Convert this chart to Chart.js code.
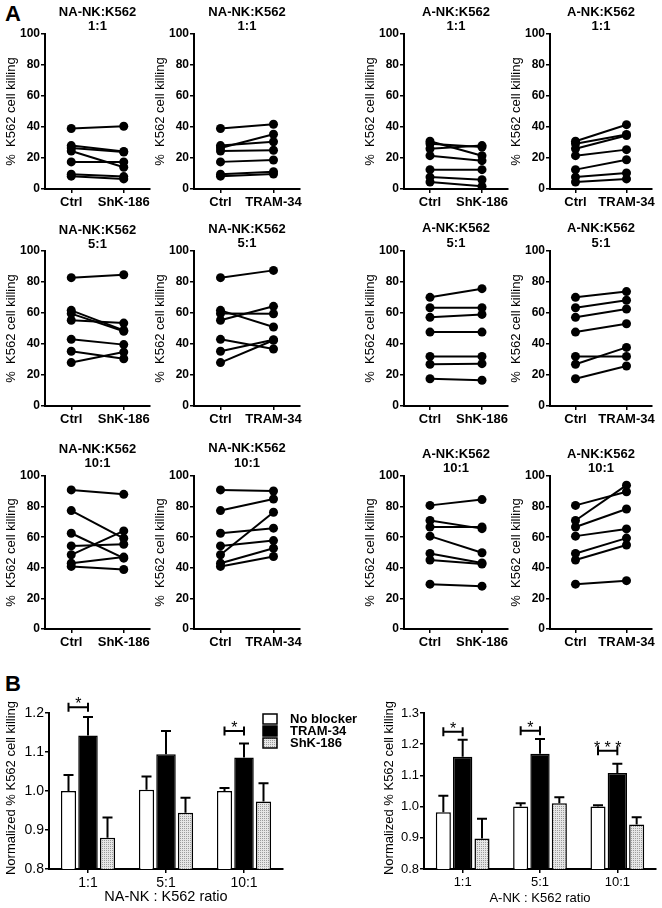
<!DOCTYPE html>
<html>
<head>
<meta charset="utf-8">
<script src="https://cdn.jsdelivr.net/npm/chart.js@4.4.1/dist/chart.umd.min.js"></script>
<style>
  body { margin: 0; background: #fff; }
  #fig { position: relative; width: 662px; height: 908px; overflow: hidden; }
  #fig canvas { position: absolute; }
  .tag { position: absolute; font: bold 22px Arial, "Liberation Sans", sans-serif; color: #000; }
</style>
</head>
<body>
<div id="fig">
  <div class="tag" style="left:5px;top:1px">A</div>
  <div class="tag" style="left:5px;top:671px">B</div>

  <canvas id="na1shk" width="160" height="215" style="left:0px;top:0px"></canvas>
  <canvas id="na1tram" width="161" height="215" style="left:149px;top:0px"></canvas>
  <canvas id="a1shk" width="159" height="215" style="left:359px;top:0px"></canvas>
  <canvas id="a1tram" width="157" height="215" style="left:505px;top:0px"></canvas>

  <canvas id="na5shk" width="160" height="215" style="left:0px;top:217px"></canvas>
  <canvas id="na5tram" width="161" height="215" style="left:149px;top:217px"></canvas>
  <canvas id="a5shk" width="159" height="215" style="left:359px;top:217px"></canvas>
  <canvas id="a5tram" width="157" height="215" style="left:505px;top:217px"></canvas>

  <canvas id="na10shk" width="160" height="213" style="left:0px;top:442px"></canvas>
  <canvas id="na10tram" width="161" height="213" style="left:149px;top:442px"></canvas>
  <canvas id="a10shk" width="159" height="213" style="left:359px;top:442px"></canvas>
  <canvas id="a10tram" width="157" height="213" style="left:505px;top:442px"></canvas>

  <canvas id="naBars" width="360" height="248" style="left:0px;top:660px"></canvas>
  <canvas id="aBars" width="287" height="248" style="left:375px;top:660px"></canvas>
</div>
<script>
const FONT = 'Arial, "Liberation Sans", sans-serif';

// A: % K562 killing per donor (7 donors), Ctrl vs blocker
const naCtrl1 = [39, 28, 26.5, 24.5, 17.5, 9.5, 8.3];
const naShk1 = [40.5, 24.2, 23.8, 14, 17.5, 8, 6.5];
const naTram1 = [41.8, 30.5, 35.3, 25, 18.7, 11.2, 9.7];
const naCtrl5 = [82.8, 61.7, 59.6, 55.3, 43, 35.3, 28];
const naShk5 = [84.7, 48.8, 48.2, 53.5, 39.6, 30.5, 34.8];
const naTram5 = [87.5, 51, 59.5, 64.3, 36.8, 42.8, 42.4];
const naCtrl10 = [90.9, 77.4, 62.6, 54.3, 48.5, 43, 40.9];
const naShk10 = [88, 59.3, 46.3, 55.4, 64.1, 47, 38.9];
const naTram10 = [90.2, 85, 65.9, 57.8, 76.3, 52.8, 47.4];

const aCtrl1 = [30.8, 29.2, 26, 21.5, 12.5, 7.7, 4.5];
const aShk1 = [21.5, 27.1, 28, 18.3, 12.5, 6, 1.7];
const aTram1 = [41.5, 35.2, 34.5, 25.4, 18.9, 10.3, 6.5];
const aCtrl5 = [70.1, 63.4, 57.2, 47.7, 32, 26.9, 17.6];
const aShk5 = [75.7, 63.4, 59.1, 47.7, 32, 27.3, 16.6];
const aTram5 = [73.8, 68.2, 62.6, 53.1, 32, 37.8, 25.8];
const aCtrl10 = [80.8, 70.9, 66.7, 60.7, 49.4, 45.1, 29.3];
const aShk10 = [84.6, 65.6, 66.7, 49.8, 43.2, 42.5, 28];
const aTram10 = [89.7, 94, 78.4, 65.4, 59.4, 54.9, 31.6];

// B: normalized killing, mean and upper SEM
const ratios = ['1:1', '5:1', '10:1'];
const seriesNames = ['No blocker', 'TRAM-34', 'ShK-186'];
const naNoBlock = [1.0, 1.003, 1.0];
const naTram = [1.142, 1.094, 1.086];
const naShk = [0.88, 0.944, 0.973];
const naNoBlockErr = [0.041, 0.034, 0.008];
const naTramErr = [0.048, 0.06, 0.036];
const naShkErr = [0.052, 0.039, 0.047];
const aNoBlock = [0.982, 1.0, 1.0];
const aTram = [1.16, 1.169, 1.108];
const aShk = [0.898, 1.011, 0.943];
const aNoBlockErr = [0.053, 0.011, 0.004];
const aTramErr = [0.054, 0.048, 0.029];
const aShkErr = [0.063, 0.019, 0.023];

// significance brackets (category, bracket height, label)
const naSig = [{ cat: 0, at: 1.215, label: '*' }, { cat: 2, at: 1.154, label: '*' }];
const aSig = [{ cat: 0, at: 1.24, label: '*' }, { cat: 1, at: 1.243, label: '*' }, { cat: 2, at: 1.179, label: '* * *' }];

// ---- plugins ----
const panelTitle = {
  id: 'panelTitle',
  afterDraw(chart, args, o) {
    if (!o.lines) return;
    const { ctx, chartArea: a } = chart;
    const cx = (a.left + a.right) / 2;
    ctx.save();
    ctx.font = 'bold 13px ' + FONT;
    ctx.fillStyle = '#000';
    ctx.textAlign = 'center';
    ctx.textBaseline = 'middle';
    o.lines.forEach((t, i) => ctx.fillText(t, cx, a.top - o.gap[i]));
    ctx.restore();
  }
};

const sideTitle = {
  id: 'sideTitle',
  afterDraw(chart, args, o) {
    if (!o.text) return;
    const { ctx, chartArea: a } = chart;
    ctx.save();
    ctx.translate(a.left + o.dx, (a.top + a.bottom) / 2 + o.dy);
    ctx.rotate(-Math.PI / 2);
    ctx.font = o.size + 'px ' + FONT;
    ctx.fillStyle = '#000';
    ctx.textAlign = 'center';
    ctx.textBaseline = 'middle';
    ctx.fillText(o.text, 0, 0);
    ctx.restore();
  }
};

const errorBars = {
  id: 'errorBars',
  afterDatasetsDraw(chart, args, o) {
    if (!o.errors) return;
    const { ctx } = chart;
    const y = chart.scales.y;
    ctx.save();
    ctx.strokeStyle = '#000';
    ctx.lineWidth = 2;
    chart.data.datasets.forEach((ds, di) => {
      chart.getDatasetMeta(di).data.forEach((bar, i) => {
        const top = y.getPixelForValue(ds.data[i] + o.errors[di][i]);
        ctx.beginPath();
        ctx.moveTo(bar.x, bar.y);
        ctx.lineTo(bar.x, top);
        ctx.moveTo(bar.x - 5, top);
        ctx.lineTo(bar.x + 5, top);
        ctx.stroke();
      });
    });
    ctx.restore();
  }
};

const sigBrackets = {
  id: 'sigBrackets',
  afterDraw(chart, args, o) {
    if (!o.items) return;
    const { ctx } = chart;
    const y = chart.scales.y;
    ctx.save();
    ctx.strokeStyle = '#000';
    ctx.fillStyle = '#000';
    ctx.lineWidth = 2;
    ctx.font = o.size + 'px ' + FONT;
    ctx.textAlign = 'center';
    ctx.textBaseline = 'alphabetic';
    o.items.forEach(s => {
      const x1 = chart.getDatasetMeta(0).data[s.cat].x;
      const x2 = chart.getDatasetMeta(1).data[s.cat].x;
      const py = y.getPixelForValue(s.at);
      ctx.beginPath();
      ctx.moveTo(x1, py); ctx.lineTo(x2, py);
      ctx.moveTo(x1, py - 4.5); ctx.lineTo(x1, py + 4.5);
      ctx.moveTo(x2, py - 4.5); ctx.lineTo(x2, py + 4.5);
      ctx.stroke();
      ctx.fillText(s.label, (x1 + x2) / 2, py + 2);
    });
    ctx.restore();
  }
};

const boxLegend = {
  id: 'boxLegend',
  afterDraw(chart, args, o) {
    if (!o.x) return;
    const { ctx } = chart;
    ctx.save();
    ctx.font = 'bold 13px ' + FONT;
    ctx.textBaseline = 'middle';
    chart.data.datasets.forEach((ds, i) => {
      const cy = o.y + i * 12;
      ctx.fillStyle = ds.backgroundColor;
      ctx.fillRect(o.x, cy - 5, 14, 10);
      ctx.strokeStyle = '#000';
      ctx.lineWidth = 1.5;
      ctx.strokeRect(o.x, cy - 5, 14, 10);
      ctx.fillStyle = '#000';
      ctx.fillText(ds.label, o.textX, cy + 0.5);
    });
    ctx.restore();
  }
};

Chart.register(panelTitle, sideTitle, errorBars, sigBrackets, boxLegend);

const axisBorder = { display: true, color: '#000', width: 2 };
const tickGrid = { drawOnChartArea: false, drawTicks: true, tickLength: 4, color: '#000', lineWidth: 1.5 };

function pairPanel(id, group, ratio, blocker, ctrl, treat, gap) {
  new Chart(document.getElementById(id), {
    type: 'line',
    data: {
      labels: ['Ctrl', blocker],
      datasets: ctrl.map((c, i) => ({
        data: [c, treat[i]],
        borderColor: '#000',
        backgroundColor: '#000',
        borderWidth: 2,
        pointRadius: 4.5,
        pointBorderWidth: 0
      }))
    },
    options: {
      responsive: false,
      animation: false,
      events: [],
      layout: { padding: { top: 34, right: 10, bottom: 0, left: 0 } },
      plugins: {
        legend: { display: false },
        tooltip: { enabled: false },
        panelTitle: { lines: [group + ':K562', ratio], gap: gap }
      },
      scales: {
        x: {
          offset: true,
          afterFit: s => { s.height = 26; },
          border: axisBorder,
          grid: tickGrid,
          ticks: {
            color: '#000', padding: 2, autoSkip: false, maxRotation: 0, minRotation: 0,
            font: { family: FONT, size: 13, weight: 'bold' }
          }
        },
        y: {
          min: 0,
          max: 100,
          afterFit: s => { s.width = 45; },
          border: axisBorder,
          grid: tickGrid,
          ticks: { stepSize: 20, color: '#000', padding: 1, font: { family: FONT, size: 12, weight: 'bold' } },
          title: {
            display: true,
            text: '%  K562 cell killing',
            color: '#000',
            padding: { top: 4, bottom: 0 },
            font: { family: FONT, size: 13 }
          }
        }
      }
    }
  });
}

const g1 = [22, 8];
pairPanel('na1shk', 'NA-NK', '1:1', 'ShK-186', naCtrl1, naShk1, g1);
pairPanel('na1tram', 'NA-NK', '1:1', 'TRAM-34', naCtrl1, naTram1, g1);
pairPanel('a1shk', 'A-NK', '1:1', 'ShK-186', aCtrl1, aShk1, g1);
pairPanel('a1tram', 'A-NK', '1:1', 'TRAM-34', aCtrl1, aTram1, g1);
pairPanel('na5shk', 'NA-NK', '5:1', 'ShK-186', naCtrl5, naShk5, [21, 7]);
pairPanel('na5tram', 'NA-NK', '5:1', 'TRAM-34', naCtrl5, naTram5, [22, 8]);
pairPanel('a5shk', 'A-NK', '5:1', 'ShK-186', aCtrl5, aShk5, [23, 8]);
pairPanel('a5tram', 'A-NK', '5:1', 'TRAM-34', aCtrl5, aTram5, [23, 8]);
pairPanel('na10shk', 'NA-NK', '10:1', 'ShK-186', naCtrl10, naShk10, [27, 13]);
pairPanel('na10tram', 'NA-NK', '10:1', 'TRAM-34', naCtrl10, naTram10, [28, 13]);
pairPanel('a10shk', 'A-NK', '10:1', 'ShK-186', aCtrl10, aShk10, [22, 8]);
pairPanel('a10tram', 'A-NK', '10:1', 'TRAM-34', aCtrl10, aTram10, [22, 8]);

function stipple() {
  const c = document.createElement('canvas');
  c.width = 2; c.height = 2;
  const g = c.getContext('2d');
  g.fillStyle = '#e6e6e6';
  g.fillRect(0, 0, 2, 2);
  g.fillStyle = '#9c9c9c';
  g.fillRect(0, 0, 1, 1);
  return g.createPattern(c, 'repeat');
}
const dots = stipple();

function ratioBars(id, xTitle, values, errs, yMax, sig, f) {
  const fills = ['#fff', '#000', dots];
  const widths = [0.78, 1.0, 0.78];
  new Chart(document.getElementById(id), {
    type: 'bar',
    data: {
      labels: ratios,
      datasets: values.map((v, i) => ({
        label: seriesNames[i],
        data: v,
        backgroundColor: fills[i],
        borderColor: '#000',
        borderWidth: 1.5,
        categoryPercentage: 0.75,
        barPercentage: widths[i]
      }))
    },
    options: {
      responsive: false,
      animation: false,
      events: [],
      layout: { padding: { top: 53, right: f.padRight, bottom: 0, left: 0 } },
      plugins: {
        legend: { display: false },
        tooltip: { enabled: false },
        errorBars: { errors: errs },
        sigBrackets: { items: sig, size: 16 },
        sideTitle: { text: 'Normalized % K562 cell killing', dx: f.titleDx, dy: f.titleDy, size: 13 },
        boxLegend: f.legend || {}
      },
      scales: {
        x: {
          afterFit: s => { s.height = 39; },
          border: axisBorder,
          grid: Object.assign({}, tickGrid, { offset: false }),
          ticks: { color: '#000', padding: 2, font: { family: FONT, size: f.tickSize } },
          title: {
            display: true,
            text: xTitle,
            color: '#000',
            padding: { top: 0, bottom: 2 },
            font: { family: FONT, size: f.titleSize }
          }
        },
        y: {
          min: 0.8,
          max: yMax,
          afterFit: s => { s.width = 49; },
          border: axisBorder,
          grid: tickGrid,
          ticks: {
            stepSize: 0.1,
            color: '#000',
            padding: 1,
            font: { family: FONT, size: f.tickSize },
            callback: v => v.toFixed(1)
          }
        }
      }
    }
  });
}

ratioBars('naBars', 'NA-NK : K562 ratio',
  [naNoBlock, naTram, naShk], [naNoBlockErr, naTramErr, naShkErr], 1.2, naSig,
  { padRight: 77, titleDx: -37.5, titleDy: -3, titleSize: 14.5, tickSize: 14,
    legend: { x: 263, y: 59, textX: 290 } });

ratioBars('aBars', 'A-NK : K562 ratio',
  [aNoBlock, aTram, aShk], [aNoBlockErr, aTramErr, aShkErr], 1.3, aSig,
  { padRight: 6, titleDx: -35, titleDy: -3, titleSize: 13, tickSize: 13 });
</script>
</body>
</html>
